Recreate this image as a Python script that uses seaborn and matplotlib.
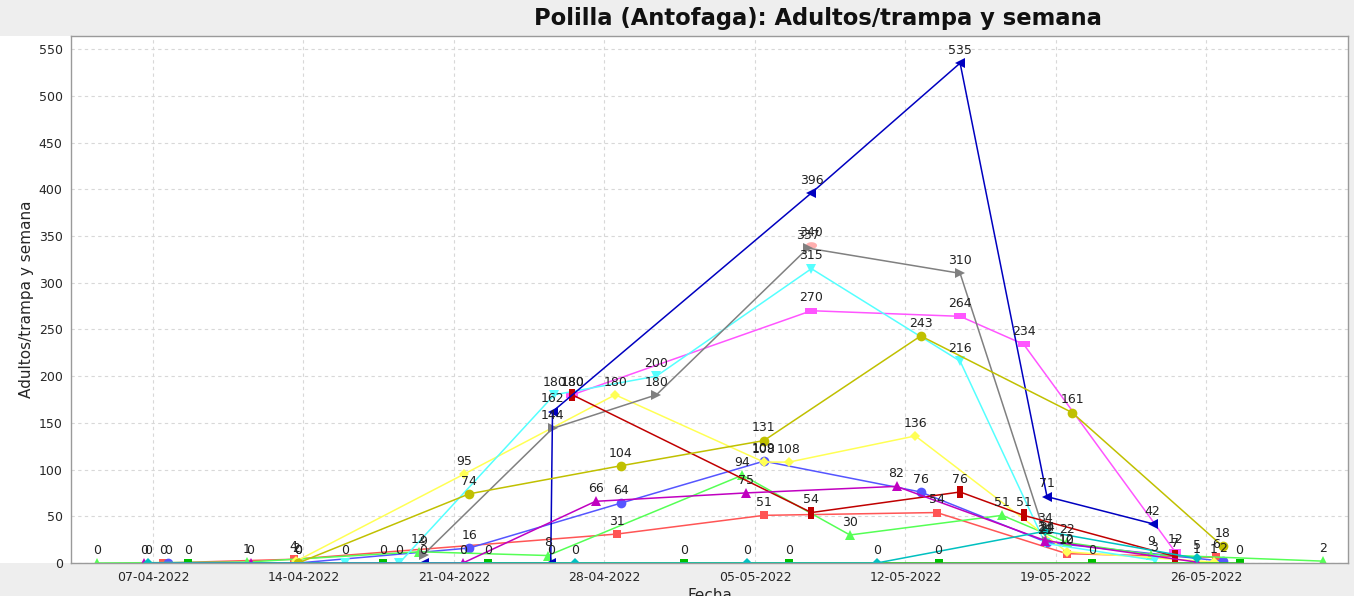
import numpy as np
import pandas as pd
import matplotlib
matplotlib.use("Agg")
import matplotlib.pyplot as plt
import matplotlib.dates as mdates
from matplotlib.patches import Rectangle
import seaborn as sns

# ---------------- data ----------------
fechas_roja = ["2022-04-07 11:00", "2022-04-13 13:00", "2022-04-28 14:00", "2022-05-05 10:00",
               "2022-05-13 11:00", "2022-05-19 12:00", "2022-05-26 11:00"]
valores_roja = [0, 4, 31, 51, 54, 10, 6]

fechas_azul = ["2022-04-07 17:00", "2022-04-13 18:00", "2022-04-21 17:00", "2022-04-28 18:00",
               "2022-05-05 10:00", "2022-05-12 17:00", "2022-05-18 14:00", "2022-05-26 18:00"]
valores_azul = [0, 0, 16, 64, 109, 76, 22, 2]

fechas_verde = ["2022-04-04 10:00", "2022-04-11 09:00", "2022-04-19 09:00", "2022-04-25 09:00",
                "2022-05-04 10:00", "2022-05-09 10:00", "2022-05-16 12:00", "2022-05-19 12:00",
                "2022-05-23 10:00", "2022-05-31 10:00"]
valores_verde = [0, 1, 12, 8, 94, 30, 51, 22, 9, 2]

fechas_amarilla = ["2022-04-13 16:00", "2022-04-21 11:00", "2022-04-28 12:00", "2022-05-05 10:00",
                   "2022-05-06 14:00", "2022-05-12 11:00", "2022-05-19 12:00", "2022-05-26 08:00"]
valores_amarilla = [2, 95, 180, 108, 108, 136, 12, 1]

fechas_magenta = ["2022-04-26 12:00", "2022-05-07 15:00", "2022-05-14 13:00", "2022-05-17 12:00",
                  "2022-05-24 13:00"]
valores_magenta = [180, 270, 264, 234, 12]

fechas_cian = ["2022-04-15 22:00", "2022-04-18 11:00", "2022-04-25 16:00", "2022-04-30 10:00",
               "2022-05-07 15:00", "2022-05-14 13:00", "2022-05-18 12:00", "2022-05-23 14:00"]
valores_cian = [0, 0, 180, 200, 315, 216, 21, 3]

fechas_rosa = ["2022-05-07 15:00"]
valores_rosa = [340]

fechas_gris = ["2022-04-19 14:00", "2022-04-25 14:00", "2022-04-30 10:00", "2022-05-07 11:00",
               "2022-05-14 13:00", "2022-05-18 14:00"]
valores_gris = [9, 144, 180, 337, 310, 24]

fechas_rojo_osc = ["2022-04-26 12:00", "2022-05-07 15:00", "2022-05-14 13:00", "2022-05-17 12:00",
                   "2022-05-24 13:00"]
valores_rojo_osc = [180, 54, 76, 51, 7]

fechas_azul_osc = ["2022-04-19 14:00", "2022-04-25 12:00", "2022-04-25 14:00", "2022-05-07 15:00",
                   "2022-05-14 13:00", "2022-05-18 14:00", "2022-05-23 12:00"]
valores_azul_osc = [0, 0, 162, 396, 535, 71, 42]

fechas_verde_osc = ["2022-04-08 15:00", "2022-04-17 17:00", "2022-04-22 14:00", "2022-05-01 17:00",
                    "2022-05-06 14:00", "2022-05-13 13:00", "2022-05-20 16:00", "2022-05-27 13:00"]
valores_verde_osc = [0, 0, 0, 0, 0, 0, 0, 0]

fechas_amarillo_osc = ["2022-04-13 18:00", "2022-04-21 17:00", "2022-04-28 18:00", "2022-05-05 10:00",
                       "2022-05-12 17:00", "2022-05-19 18:00", "2022-05-26 18:00"]
valores_amarillo_osc = [0, 74, 104, 131, 243, 161, 18]

fechas_magenta_osc = ["2022-04-06 14:00", "2022-04-11 13:00", "2022-04-21 10:00", "2022-04-27 14:00",
                      "2022-05-04 14:00", "2022-05-11 14:00", "2022-05-18 12:00", "2022-05-25 13:00"]
valores_magenta_osc = [0, 0, 0, 66, 75, 82, 24, 1]

fechas_cian_osc = ["2022-04-06 19:00", "2022-04-26 15:00", "2022-05-04 15:00", "2022-05-10 16:00",
                   "2022-05-18 12:00", "2022-05-25 13:00"]
valores_cian_osc = [0, 0, 0, 0, 34, 5]

etiquetas_x = ["07-04-2022", "14-04-2022", "21-04-2022", "28-04-2022",
               "05-05-2022", "12-05-2022", "19-05-2022", "26-05-2022"]
ticks_y = list(range(0, 551, 50))

titulo = "Polilla (Antofaga): Adultos/trampa y semana"
etiqueta_x = "Fecha"
etiqueta_y = "Adultos/trampa y semana"

# ---------------- styles ----------------
rect_h = [(-1, -0.55), (1, -0.55), (1, 0.55), (-1, 0.55), (-1, -0.55)]
rect_v = [(-0.55, -1), (0.55, -1), (0.55, 1), (-0.55, 1), (-0.55, -1)]
_t = np.linspace(0, 2 * np.pi, 30)
elipse = list(zip(np.cos(_t), 0.6 * np.sin(_t)))

series = [
    ("roja", fechas_roja, valores_roja, "#FF5555", "s", 6),
    ("azul", fechas_azul, valores_azul, "#5555FF", "o", 7),
    ("verde", fechas_verde, valores_verde, "#55FF55", "^", 7),
    ("amarilla", fechas_amarilla, valores_amarilla, "#FFFF55", "D", 5),
    ("magenta", fechas_magenta, valores_magenta, "#FF55FF", rect_h, 8),
    ("cian", fechas_cian, valores_cian, "#55FFFF", "v", 7),
    ("rosa", fechas_rosa, valores_rosa, "#FFAFAF", elipse, 8),
    ("gris", fechas_gris, valores_gris, "#808080", ">", 7),
    ("rojo_osc", fechas_rojo_osc, valores_rojo_osc, "#C00000", rect_v, 8),
    ("azul_osc", fechas_azul_osc, valores_azul_osc, "#0000C0", "<", 7),
    ("verde_osc", fechas_verde_osc, valores_verde_osc, "#00C000", "s", 6),
    ("amarillo_osc", fechas_amarillo_osc, valores_amarillo_osc, "#C0C000", "o", 7),
    ("magenta_osc", fechas_magenta_osc, valores_magenta_osc, "#C000C0", "^", 7),
    ("cian_osc", fechas_cian_osc, valores_cian_osc, "#00C0C0", "D", 5),
]

sns.set_theme(style="white")
plt.rcParams["font.family"] = ["DejaVu Sans"]

W, H = 1354, 596
fig = plt.figure(figsize=(W / 100, H / 100), dpi=100, facecolor="#EEEEEE")
# white panel to the left of the plot (y-axis area), drawn behind everything
fig.patches.append(Rectangle((0, 1 - 563 / H), 71 / W, (563 - 36) / H,
                             transform=fig.transFigure, facecolor="white",
                             edgecolor="none", zorder=-10))
ax = fig.add_axes([71 / W, 1 - 563 / H, (1348 - 71) / W, (563 - 36) / H])
ax.set_zorder(1)
ax.set_facecolor("white")

for nombre, fechas, valores, color, marcador, ms in series:
    df = pd.DataFrame({"fecha": pd.to_datetime(fechas), "valor": valores})
    sns.lineplot(data=df, x="fecha", y="valor", ax=ax, color=color, marker=marcador,
                 markersize=ms, markeredgewidth=0, linewidth=1.1, estimator=None,
                 sort=False, legend=False)
    for f, v in zip(df["fecha"], df["valor"]):
        ax.annotate(str(v), (mdates.date2num(f), v), xytext=(0, 4.5),
                    textcoords="offset points", ha="center", va="bottom",
                    fontsize=9, color="#222222", zorder=10)

ax.set_xlim(pd.Timestamp("2022-04-03 04:30"), pd.Timestamp("2022-06-01 14:00"))
ax.set_ylim(0, 564)
tick_dates = pd.to_datetime(etiquetas_x, format="%d-%m-%Y")
ax.set_xticks(tick_dates)
ax.set_xticklabels(etiquetas_x, fontsize=9)
ax.set_yticks(ticks_y)
ax.set_yticklabels([str(t) for t in ticks_y], fontsize=9)
ax.grid(True, color="#D8D8D8", linestyle=(0, (3, 3)), linewidth=0.8)
ax.set_axisbelow(True)
for s in ax.spines.values():
    s.set_color("#9A9A9A")
    s.set_linewidth(1.0)
ax.tick_params(axis="both", length=3, color="#9A9A9A", pad=3)
ax.set_xlabel(etiqueta_x, fontsize=11, labelpad=3)
ax.set_ylabel(etiqueta_y, fontsize=11)
ax.yaxis.set_label_coords((34 - 71) / (1348 - 71), 0.5)

fig.text(818 / W, 1 - 18 / H, titulo, ha="center", va="center",
         fontsize=16.3, fontweight="bold", color="#111111")

fig.savefig("out.png", dpi=100, facecolor=fig.get_facecolor())
